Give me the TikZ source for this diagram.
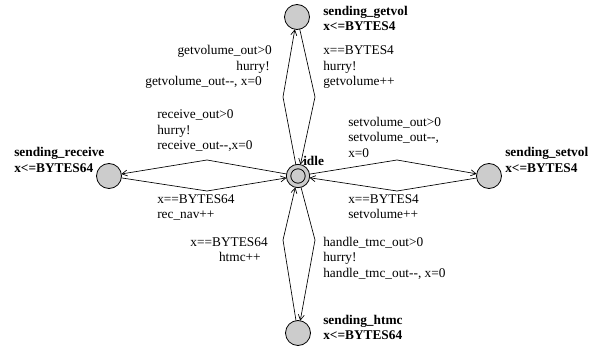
\documentclass[tikz,border=0pt]{standalone}
\usepackage{fontspec}
\setmainfont{Liberation Serif}
\usetikzlibrary{positioning,arrows.meta}

\begin{document}
\begin{tikzpicture}[
	x=0.75pt, y=-0.75pt,
	font=\fontsize{10}{11.6}\selectfont,
	location/.style = {
		draw, circle, fill=gray!40, minimum size=18.75pt,
		line width=0.6pt, inner sep=0pt, outer sep=0pt},
	initloc/.style = {
		location, minimum size=17.5pt,
		path picture={\draw[line width=0.6pt] (path picture bounding box.center) circle (5.4pt);}},
	locname/.style = {font=\fontsize{10}{11.6}\selectfont\bfseries,
		inner sep=0pt, anchor=base west},
	lbl/.style = {inner sep=0pt, anchor=base west},
	rlbl/.style = {inner sep=0pt, anchor=base east},
	arrow/.style = {line width=0.5pt, -{Straight Barb[length=4pt,width=4.5pt]}}
]
\useasboundingbox (0,0) rectangle (600,349);

% locations
\node (idle)    [initloc]  at (298,176) {};
\node (getvol)  [location] at (297,17)  {};
\node (htmc)    [location] at (298,333) {};
\node (receive) [location] at (109,176) {};
\node (setvol)  [location] at (489,176) {};

% location names and invariants
\node (nidle)  [locname] at (303,166) {idle};
\node (ngv)    [locname] at (323,16)  {sending\_getvol};
\node (igv)    [locname] at (323,31)  {x<=BYTES4};
\node (nrc)    [locname] at (14,157)  {sending\_receive};
\node (irc)    [locname] at (14,173)  {x<=BYTES64};
\node (nsv)    [locname] at (505,157) {sending\_setvol};
\node (isv)    [locname] at (505,173) {x<=BYTES4};
\node (nht)    [locname] at (323,324) {sending\_htmc};
\node (iht)    [locname] at (323,339) {x<=BYTES64};

% nails
\coordinate (gvl) at (283,97);
\coordinate (gvr) at (315,97);
\coordinate (rcu) at (207,160);
\coordinate (rcd) at (207,191);
\coordinate (svu) at (397,160);
\coordinate (svd) at (397,191);
\coordinate (htl) at (283,240);
\coordinate (htr) at (315,240);

% transitions
\draw[arrow] (idle) -- (gvl) -- (getvol);
\draw[arrow] (getvol) -- (gvr) -- (idle);
\draw[arrow] (idle) -- (rcu) -- (receive);
\draw[arrow] (receive) -- (rcd) -- (idle);
\draw[arrow] (idle) -- (svu) -- (setvol);
\draw[arrow] (setvol) -- (svd) -- (idle);
\draw[arrow] (idle) -- (htr) -- (htmc);
\draw[arrow] (htmc) -- (htl) -- (idle);

% labels: getvol
\node (g1) [rlbl] at (272,55) {getvolume\_out>0};
\node (g2) [rlbl] at (270,71) {hurry!};
\node (g3) [rlbl] at (262,86) {getvolume\_out-{}-, x=0};
\node (g4) [lbl]  at (323,55) {x==BYTES4};
\node (g5) [lbl]  at (323,71) {hurry!};
\node (g6) [lbl]  at (323,86) {getvolume++};

% labels: receive
\node (r1) [lbl] at (157,119) {receive\_out>0};
\node (r2) [lbl] at (157,135) {hurry!};
\node (r3) [lbl] at (157,150) {receive\_out-{}-,x=0};
\node (r4) [lbl] at (157,204) {x==BYTES64};
\node (r5) [lbl] at (157,219) {rec\_nav++};

% labels: setvol
\node (s1) [lbl] at (348,127) {setvolume\_out>0};
\node (s2) [lbl] at (348,142) {setvolume\_out-{}-,};
\node (s3) [lbl] at (348,158) {x=0};
\node (s4) [lbl] at (348,204) {x==BYTES4};
\node (s5) [lbl] at (348,219) {setvolume++};

% labels: htmc
\node (h1) [rlbl] at (268,247) {x==BYTES64};
\node (h2) [rlbl] at (261,262) {htmc++};
\node (h3) [lbl]  at (323,247) {handle\_tmc\_out>0};
\node (h4) [lbl]  at (323,262) {hurry!};
\node (h5) [lbl]  at (323,277) {handle\_tmc\_out-{}-, x=0};
\end{tikzpicture}
\end{document}
